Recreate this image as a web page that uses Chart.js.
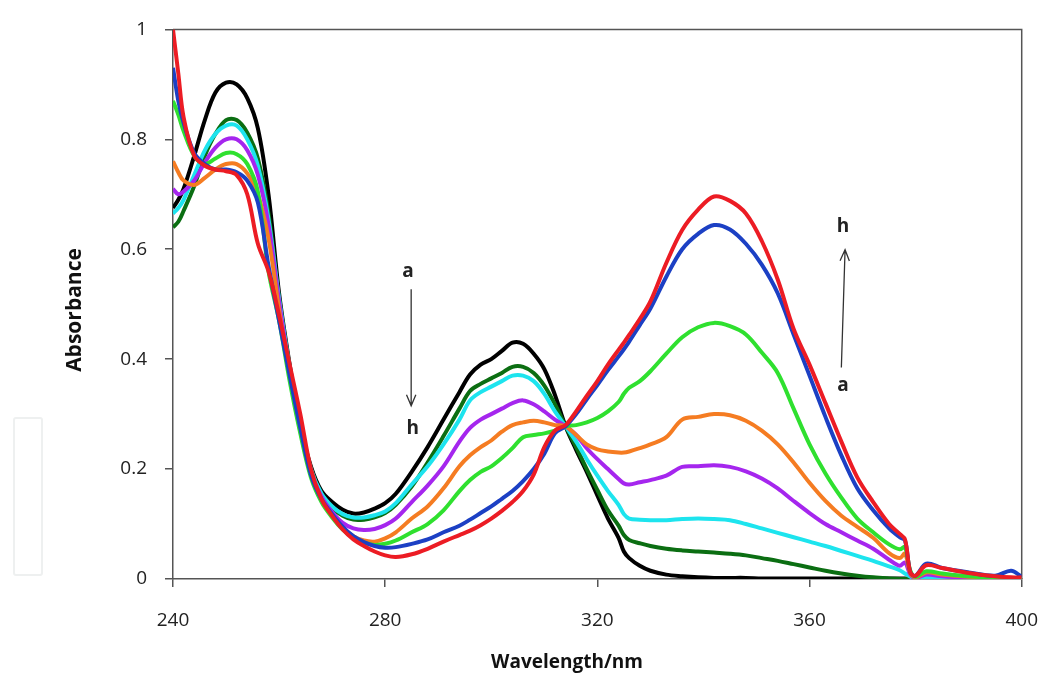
<!DOCTYPE html>
<html>
<head>
<meta charset="utf-8">
<script src="https://cdn.jsdelivr.net/npm/chart.js@4.4.1/dist/chart.umd.min.js"></script>
<style>
  html, body { margin: 0; padding: 0; background: #fff; }
  #wrap { position: relative; width: 1060px; height: 674px; }
  #ghost { position: absolute; left: 13px; top: 417px; width: 26px; height: 155px; border: 2px solid #eef0f0; border-radius: 3px; }
  canvas { position: absolute; left: 0; top: 0; }
</style>
</head>
<body>
<div id="wrap">
  <div id="ghost"></div>
  <canvas id="chart" width="1060" height="674"></canvas>
</div>
<script>
// wavelength grid (nm), shared by all spectra
const wavelength = [240, 241, 242, 244, 246, 248, 250, 252, 254, 256, 258, 260, 262, 264, 266, 268, 270, 272, 274, 276,
  278, 280, 282, 285, 288, 291, 294, 296, 298, 300, 302, 304, 306, 308, 310, 312, 314, 316, 318, 320,
  322, 324, 325, 326, 328, 330, 333, 336, 339, 342, 345, 348, 351, 354, 357, 360, 363, 366, 369, 372,
  375, 377, 378, 379, 380, 382, 385, 390, 395, 398, 400];

// absorbance, curves a -> h
const absA = [.675, .69, .71, .77, .835, .885, .903, .9, .875, .82, .70, .52, .39, .28, .205, .16, .14, .126, .119, .121,
  .128, .138, .155, .195, .24, .29, .34, .372, .39, .40, .415, .43, .428, .41, .382, .335, .278, .235, .195, .152,
  .11, .075, .05, .038, .024, .015, .008, .005, .003, .002, .002, .002, .001, .001, .001, .001, .001, .001, .001, .001,
  .001, .001, .001, 0, 0, 0, 0, 0, 0, 0, 0];
const absB = [.64, .65, .67, .715, .77, .81, .835, .835, .812, .765, .665, .51, .385, .278, .2, .155, .13, .115, .108, .108,
  .112, .12, .135, .168, .212, .26, .31, .342, .355, .365, .375, .386, .386, .375, .352, .318, .278, .24, .2, .162,
  .125, .097, .08, .071, .065, .06, .055, .052, .05, .048, .046, .043, .038, .033, .027, .021, .015, .01, .006, .003,
  .001, 0, 0, 0, 0, 0, 0, 0, 0, 0, 0];
const absC = [.665, .675, .69, .735, .78, .81, .825, .825, .8, .752, .655, .51, .385, .28, .2, .155, .132, .118, .112, .112,
  .116, .123, .138, .172, .205, .245, .29, .325, .34, .35, .36, .37, .37, .36, .337, .305, .278, .25, .218, .188,
  .16, .135, .118, .11, .108, .107, .107, .109, .11, .109, .107, .1, .092, .084, .076, .068, .06, .051, .042, .033,
  .023, .016, .01, .004, .001, .003, .002, .001, 0, 0, 0];
const absD = [.71, .70, .705, .725, .758, .785, .80, .80, .78, .735, .645, .505, .38, .275, .195, .15, .122, .102, .092, .089,
  .091, .098, .11, .14, .17, .205, .25, .275, .29, .30, .31, .32, .325, .318, .305, .29, .278, .262, .238, .218,
  .2, .182, .174, .172, .176, .18, .188, .204, .205, .207, .204, .196, .183, .165, .142, .12, .1, .085, .07, .055,
  .035, .024, .03, .008, .002, .008, .005, .002, .001, 0, 0];
const absE = [.76, .74, .725, .717, .73, .745, .755, .755, .738, .70, .62, .49, .37, .27, .19, .145, .115, .093, .078, .07,
  .068, .074, .085, .11, .132, .165, .205, .225, .24, .252, .268, .28, .285, .288, .285, .28, .278, .262, .245, .236,
  .232, .23, .23, .232, .238, .245, .258, .29, .295, .30, .298, .288, .27, .245, .212, .175, .142, .115, .095, .075,
  .047, .038, .046, .01, .003, .012, .008, .004, .002, .001, .001];
const absF = [.87, .845, .815, .77, .755, .765, .775, .773, .755, .705, .56, .47, .36, .265, .185, .14, .112, .09, .075, .066,
  .062, .064, .07, .085, .1, .125, .16, .18, .195, .205, .22, .238, .258, .262, .265, .27, .278, .28, .285, .293,
  .305, .322, .337, .348, .36, .378, .41, .44, .458, .466, .46, .445, .412, .375, .31, .245, .192, .148, .11, .085,
  .063, .054, .058, .015, .004, .014, .01, .005, .002, .001, .001];
const absG = [.93, .87, .83, .775, .755, .745, .745, .74, .725, .685, .57, .47, .37, .275, .19, .145, .118, .095, .078, .067,
  .06, .057, .058, .064, .072, .085, .097, .108, .12, .132, .146, .16, .178, .2, .228, .265, .278, .30, .327, .353,
  .38, .405, .418, .432, .462, .492, .55, .60, .628, .644, .636, .61, .572, .52, .445, .37, .295, .225, .165, .125,
  .092, .076, .07, .012, .006, .028, .02, .012, .006, .015, .004];
const absH = [1.0, .92, .84, .77, .752, .745, .742, .735, .70, .61, .56, .48, .39, .30, .2, .145, .115, .09, .072, .06,
  .05, .043, .04, .045, .055, .068, .08, .088, .098, .11, .124, .14, .16, .19, .24, .27, .28, .305, .333, .36,
  .39, .417, .43, .444, .473, .505, .575, .635, .672, .696, .688, .665, .615, .545, .455, .39, .32, .25, .185, .14,
  .1, .082, .072, .012, .006, .025, .02, .011, .005, .003, .003];

const curveNames = ['a', 'b', 'c', 'd', 'e', 'f', 'g', 'h'];
const curveColors = ['#000000', '#0b6e12', '#1de4ee', '#a526ee', '#f57c22', '#2fe02f', '#1c40c4', '#ec1c24'];
const curveValues = [absA, absB, absC, absD, absE, absF, absG, absH];

// axis ticks
const xTicks = [240, 280, 320, 360, 400];
const yTicks = [0, 0.2, 0.4, 0.6, 0.8, 1];

// a -> h labels and arrows (data coordinates)
const noteTexts = ['a', 'h', 'h', 'a'];
const noteX = [284.3, 285.2, 366.3, 366.3];
const noteY = [0.56, 0.273, 0.641, 0.351];
const arrowFrom = [[284.9, 0.527], [366.0, 0.385]];
const arrowTo = [[284.9, 0.315], [366.7, 0.599]];

// frame round the plot area (top and right sides too)
const framePlugin = {
  id: 'frame',
  beforeDatasetsDraw(chart) {
    const { ctx, chartArea: a } = chart;
    ctx.save();
    ctx.strokeStyle = '#555';
    ctx.lineWidth = 1.5;
    ctx.beginPath();
    ctx.moveTo(a.left, a.top);
    ctx.lineTo(a.right, a.top);
    ctx.lineTo(a.right, a.bottom);
    ctx.stroke();
    ctx.restore();
  }
};

// arrows, letters and axis titles
const notesPlugin = {
  id: 'notes',
  afterDatasetsDraw(chart) {
    const { ctx, scales: { x, y } } = chart;
    ctx.save();
    ctx.fillStyle = '#222';
    ctx.font = 'bold 19px "Open Sans"';
    ctx.textAlign = 'center';
    ctx.textBaseline = 'middle';
    noteTexts.forEach((t, i) => {
      ctx.fillText(t, x.getPixelForValue(noteX[i]), y.getPixelForValue(noteY[i]));
    });

    ctx.strokeStyle = '#333';
    ctx.lineWidth = 1.3;
    arrowFrom.forEach((p, i) => {
      const x1 = x.getPixelForValue(p[0]), y1 = y.getPixelForValue(p[1]);
      const x2 = x.getPixelForValue(arrowTo[i][0]), y2 = y.getPixelForValue(arrowTo[i][1]);
      const ang = Math.atan2(y2 - y1, x2 - x1);
      ctx.beginPath();
      ctx.moveTo(x1, y1);
      ctx.lineTo(x2, y2);
      ctx.moveTo(x2 - 12 * Math.cos(ang - 0.4), y2 - 12 * Math.sin(ang - 0.4));
      ctx.lineTo(x2, y2);
      ctx.lineTo(x2 - 12 * Math.cos(ang + 0.4), y2 - 12 * Math.sin(ang + 0.4));
      ctx.stroke();
    });

    // axis titles
    ctx.fillStyle = '#111';
    ctx.font = 'bold 19px "Open Sans"';
    ctx.fillText('Wavelength/nm', 567, 663);
    ctx.translate(75, 310);
    ctx.rotate(-Math.PI / 2);
    ctx.font = 'bold 21px "Open Sans"';
    ctx.fillText('Absorbance', 0, 0);
    ctx.restore();
  }
};

const ctx = document.getElementById('chart').getContext('2d');

new Chart(ctx, {
  type: 'line',
  data: {
    datasets: curveValues.map((vals, i) => ({
      label: curveNames[i],
      data: wavelength.map((w, k) => ({ x: w, y: vals[k] })),
      borderColor: curveColors[i],
      borderWidth: 4,
      pointRadius: 0,
      fill: false,
      tension: 0.35,
      order: curveValues.length - i // h (red) ends up on top
    }))
  },
  options: {
    responsive: false,
    animation: false,
    layout: { padding: { top: 27, right: 19, left: 0, bottom: 0 } },
    plugins: { legend: { display: false }, tooltip: { enabled: false } },
    scales: {
      x: {
        type: 'linear',
        min: xTicks[0],
        max: xTicks[xTicks.length - 1],
        afterBuildTicks: s => { s.ticks = xTicks.map(v => ({ value: v })); },
        ticks: { color: '#222', font: { family: 'Open Sans', size: 19 }, padding: 22, maxRotation: 0 },
        grid: { drawOnChartArea: false, drawTicks: true, tickLength: 8, color: '#555', lineWidth: 1.5 },
        border: { color: '#555', width: 1.5 },
        afterFit: s => { s.height = 95; }
      },
      y: {
        min: yTicks[0],
        max: yTicks[yTicks.length - 1],
        afterBuildTicks: s => { s.ticks = yTicks.map(v => ({ value: v })); },
        ticks: { color: '#222', font: { family: 'Open Sans', size: 19 }, padding: 18, callback: v => String(v) },
        grid: { drawOnChartArea: false, drawTicks: true, tickLength: 8, color: '#555', lineWidth: 1.5 },
        border: { color: '#555', width: 1.5 },
        afterFit: s => { s.width = 173; }
      }
    }
  },
  plugins: [framePlugin, notesPlugin]
});
</script>
</body>
</html>
